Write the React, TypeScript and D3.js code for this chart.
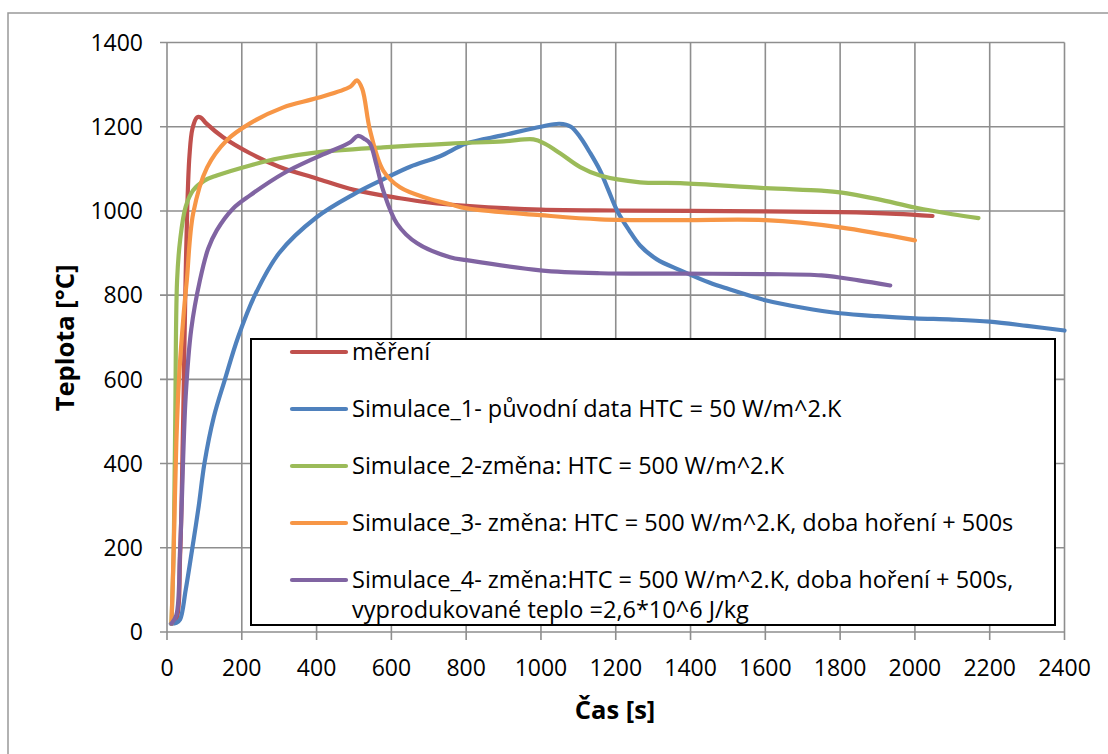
import React from "react";
import * as d3 from "d3";

const xTicks = [0, 200, 400, 600, 800, 1000, 1200, 1400, 1600, 1800, 2000, 2200, 2400];
const yTicks = [0, 200, 400, 600, 800, 1000, 1200, 1400];

const seriesNames = [
  "měření",
  "Simulace_1- původní data HTC = 50 W/m^2.K",
  "Simulace_2-změna: HTC = 500 W/m^2.K",
  "Simulace_3- změna: HTC = 500 W/m^2.K, doba hoření + 500s",
  "Simulace_4- změna:HTC = 500 W/m^2.K, doba hoření + 500s,|vyprodukované teplo =2,6*10^6 J/kg",
];
const seriesColors = ["#C0504D", "#4F81BD", "#9BBB59", "#F79646", "#8064A2"];

const mereni: [number, number][] = [
  [12, 20], [25, 30], [35, 180], [42, 450], [47, 700], [50, 850], [54, 1000], [60, 1130],
  [68, 1195], [80, 1222], [90, 1222], [105, 1208], [150, 1175], [222, 1137], [300, 1105],
  [400, 1077], [500, 1050], [623, 1030], [700, 1020], [800, 1012], [1000, 1003], [1200, 1001],
  [1400, 1000], [1600, 999], [1800, 997], [1950, 993], [2047, 988],
];
const sim1: [number, number][] = [
  [10, 20], [25, 22], [35, 30], [50, 100], [67, 195], [85, 300], [100, 400], [125, 510],
  [155, 600], [190, 700], [235, 800], [300, 900], [400, 985], [500, 1040], [578, 1075],
  [650, 1105], [730, 1130], [800, 1160], [900, 1180], [1000, 1200], [1050, 1207], [1080, 1200],
  [1105, 1175], [1130, 1140], [1158, 1096], [1180, 1050], [1204, 1000], [1235, 955], [1265, 918],
  [1310, 885], [1373, 859], [1450, 830], [1500, 815], [1600, 788], [1700, 770], [1800, 757],
  [1900, 750], [2000, 745], [2100, 742], [2200, 737], [2300, 727], [2400, 716],
];
const sim2: [number, number][] = [
  [12, 20], [18, 200], [22, 500], [27, 835], [35, 930], [50, 1010], [70, 1049], [100, 1072],
  [133, 1084], [222, 1108], [300, 1125], [401, 1139], [578, 1151], [757, 1160], [900, 1165],
  [980, 1170], [1010, 1160], [1051, 1137], [1105, 1104], [1158, 1084], [1265, 1068], [1373, 1066],
  [1600, 1054], [1750, 1048], [1800, 1044], [1900, 1028], [2000, 1008], [2100, 992], [2170, 983],
];
const sim3: [number, number][] = [
  [12, 20], [18, 200], [25, 450], [32, 600], [45, 760], [53, 835], [70, 994], [107, 1103],
  [160, 1168], [222, 1208], [311, 1246], [401, 1268], [490, 1295], [508, 1310], [522, 1290],
  [543, 1191], [578, 1096], [623, 1056], [696, 1030], [757, 1016], [802, 1006], [998, 990],
  [1158, 980], [1373, 978], [1600, 978], [1800, 961], [2000, 930],
];
const sim4: [number, number][] = [
  [12, 20], [25, 40], [35, 195], [50, 560], [65, 720], [88, 835], [110, 910], [133, 954],
  [177, 1006], [222, 1037], [311, 1089], [401, 1128], [490, 1163], [510, 1178], [530, 1170],
  [543, 1160], [560, 1110], [578, 1049], [615, 970], [669, 923], [757, 890], [802, 883],
  [998, 859], [1158, 852], [1373, 851], [1600, 850], [1750, 847], [1850, 835], [1934, 823],
];

const allSeries = [mereni, sim1, sim2, sim3, sim4];

export default function App() {
  const W = 1108, H = 754;
  const left = 167, right = 1064.5, top = 42.5, bottom = 632;
  const x = d3.scaleLinear().domain([0, 2400]).range([left, right]);
  const y = d3.scaleLinear().domain([0, 1400]).range([bottom, top]);
  const line = d3.line<[number, number]>().x(d => x(d[0])).y(d => y(d[1])).curve(d3.curveCatmullRom.alpha(0.5));
  const font = "'Open Sans', 'DejaVu Sans', sans-serif";
  const grid = "#8e8e8e";

  const legX = 251, legY = 339, legW = 804, legH = 286;
  const legRows = [352, 409, 466, 523, 580];

  return (
    <svg width={W} height={H} style={{ position: "absolute", left: 0, top: 0, display: "block" }} fontFamily={font}>
      <rect x={0} y={0} width={W} height={H} fill="#fff" />
      <rect x={8} y={13} width={W + 20} height={H + 20} fill="none" stroke="#999" strokeWidth={1.5} />
      {yTicks.map(t => (
        <line key={"gy" + t} x1={left - 7} x2={right} y1={y(t)} y2={y(t)} stroke={grid} strokeWidth={1.6} />
      ))}
      {xTicks.map(t => (
        <line key={"gx" + t} x1={x(t)} x2={x(t)} y1={top} y2={bottom + 8} stroke={grid} strokeWidth={1.6} />
      ))}
      {yTicks.map(t => (
        <text key={"ly" + t} x={143} y={y(t)} dy="0.36em" textAnchor="end" fontSize={23} fill="#000">{t}</text>
      ))}
      {xTicks.map(t => (
        <text key={"lx" + t} x={x(t)} y={676} textAnchor="middle" fontSize={23} fill="#000">{t}</text>
      ))}
      <text x={615} y={719} textAnchor="middle" fontSize={25.5} fontWeight="bold" fill="#000">Čas [s]</text>
      <text transform={`translate(74,338) rotate(-90)`} textAnchor="middle" fontSize={25.5} fontWeight="bold" fill="#000">Teplota [°C]</text>
      {allSeries.map((s, i) => (
        <path key={"s" + i} d={line(s) || ""} fill="none" stroke={seriesColors[i]} strokeWidth={4.2} strokeLinejoin="round" strokeLinecap="round" />
      ))}
      <rect x={legX} y={legY} width={legW} height={legH} fill="#fff" stroke="#000" strokeWidth={2} />
      {seriesNames.map((n, i) => {
        const parts = n.split("|");
        return (
          <g key={"lg" + i}>
            <line x1={292} x2={346} y1={legRows[i]} y2={legRows[i]} stroke={seriesColors[i]} strokeWidth={4.2} strokeLinecap="round" />
            {parts.map((p, j) => (
              <text key={j} x={352} y={legRows[i] + 8 + j * 30} fontSize={23.5} fill="#000">{p}</text>
            ))}
          </g>
        );
      })}
    </svg>
  );
}
